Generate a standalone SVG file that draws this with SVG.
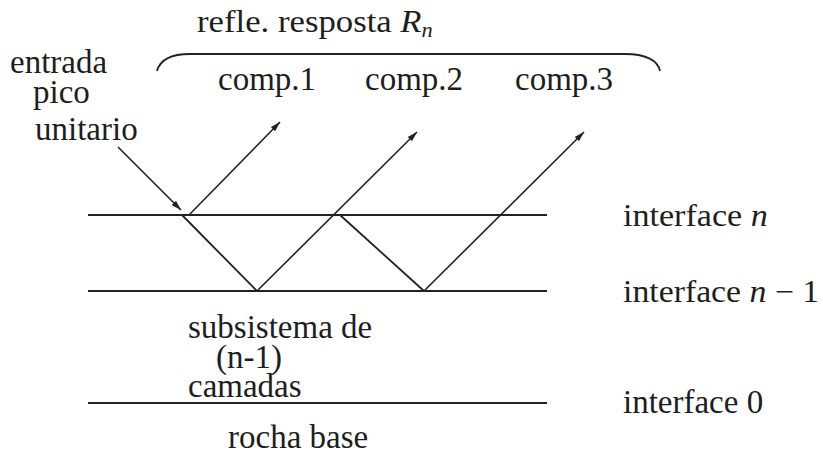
<svg xmlns="http://www.w3.org/2000/svg" width="823" height="459" viewBox="0 0 823 459">
<style>
.t{font-family:Liberation Serif;font-size:31px;fill:#1e1e1e}
.p{font-family:Liberation Serif;font-size:33px;fill:#1e1e1e}
.it{font-style:italic}
.ln{stroke:#222;stroke-width:1.8;fill:none}
.ar{stroke:#222;stroke-width:1.6;fill:none;marker-end:url(#ah)}
</style>
<defs>
<marker id="ah" viewBox="0 0 10 6" refX="10" refY="3" markerWidth="10" markerHeight="6" markerUnits="userSpaceOnUse" orient="auto">
<path d="M0,0 L10,3 L0,6 Z" fill="#222"/>
</marker>
</defs>
<g id="brace"><path class="ln" d="M157,71 C160,60 170,54 190,54 L625,54 C645,54 658,60 660,71"/></g>
<g id="title"><text class="t" transform="translate(197,32) scale(1.12,1)">refle. resposta <tspan class="it">R</tspan><tspan class="it" font-size="20" dy="5">n</tspan></text></g>
<g id="input-label">
<text class="p" x="10" y="73">entrada</text>
<text class="p" x="33" y="103">pico</text>
<text class="p" x="35" y="140">unitario</text>
</g>
<g id="comp1"><text class="p" x="218" y="90">comp.1</text></g>
<g id="comp2"><text class="p" x="365" y="90">comp.2</text></g>
<g id="comp3"><text class="p" x="515" y="90">comp.3</text></g>
<g id="interface-n">
<line class="ln" x1="88" y1="215" x2="547" y2="215"/>
<text class="t" transform="translate(623,226) scale(1.1,1)">interface <tspan class="it">n</tspan></text>
</g>
<g id="interface-n-1">
<line class="ln" x1="88" y1="291" x2="547" y2="291"/>
<text class="t" transform="translate(623,302) scale(1.09,1)">interface <tspan class="it">n</tspan> − 1</text>
</g>
<g id="subsystem">
<text class="p" x="188" y="338">subsistema de</text>
<text class="p" x="216" y="368">(n-1)</text>
<text class="p" x="188" y="397">camadas</text>
</g>
<g id="interface-0">
<line class="ln" x1="88" y1="403" x2="547" y2="403"/>
<text class="p" x="623" y="413">interface 0</text>
</g>
<g id="bedrock"><text class="p" x="228" y="448">rocha base</text></g>
<g id="connectors">
<line class="ar" x1="118" y1="147" x2="181" y2="210"/>
<polyline class="ln" points="182,215 257,291"/>
<line class="ar" x1="189" y1="215" x2="280" y2="122"/>
<line class="ar" x1="257" y1="291" x2="417" y2="132"/>
<polyline class="ln" points="340,215 424,291"/>
<line class="ar" x1="424" y1="291" x2="584" y2="132"/>
</g>
</svg>
